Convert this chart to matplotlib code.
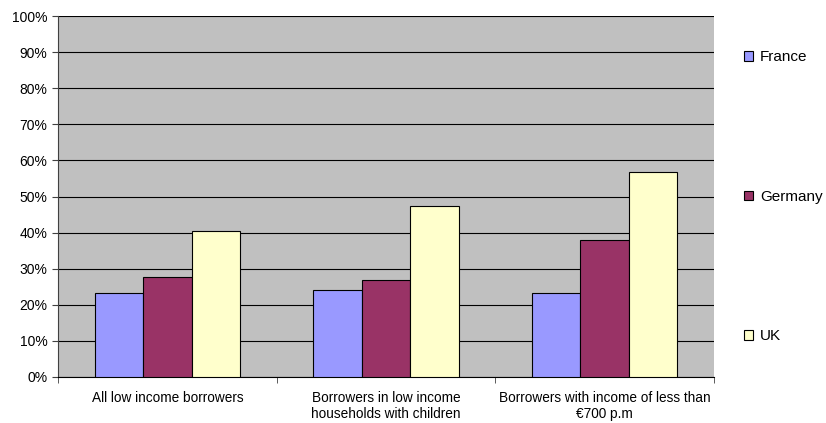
import numpy as np
import matplotlib.pyplot as plt
from matplotlib.ticker import PercentFormatter

# Data
categories = ['All low income borrowers',
              'Borrowers in low income\nhouseholds with children',
              'Borrowers with income of less than\n€700 p.m']
countries = ['France', 'Germany', 'UK']
france = [23.4, 24.1, 23.4]
germany = [27.8, 27.0, 37.9]
uk = [40.4, 47.5, 56.8]
colors = ['#9999FF', '#993366', '#FFFFCC']

plt.rcParams['font.family'] = ['Liberation Sans', 'DejaVu Sans']

fig = plt.figure(figsize=(8.26, 4.23), dpi=100)
ax = fig.add_axes([58 / 826, 1 - 377 / 423, (714 - 58) / 826, (377 - 16) / 423])
ax.set_facecolor('#C0C0C0')

x = np.arange(len(categories))
w = 0.222
for i, (vals, name) in enumerate(zip([france, germany, uk], countries)):
    ax.bar(x + (i - 1) * w, vals, w, color=colors[i], edgecolor='black',
           linewidth=0.8, label=name, zorder=3)

ax.set_ylim(0, 100)
ax.set_xlim(-0.5, len(categories) - 0.5)
ax.set_yticks(np.arange(0, 101, 10))
ax.yaxis.set_major_formatter(PercentFormatter(decimals=0))
ax.yaxis.grid(True, color='black', linewidth=0.8, zorder=0)

# category labels centered, tick marks at boundaries
ax.set_xticks(x)
ax.set_xticklabels(categories, fontsize=9.8)
ax.tick_params(axis='x', which='major', length=0, pad=10)
ax.set_xticks(np.arange(-0.5, len(categories)), minor=True)
ax.tick_params(axis='x', which='minor', length=4, color='#404040')
ax.tick_params(axis='y', labelsize=10, length=4, color='#404040')

for s in ['top', 'right']:
    ax.spines[s].set_visible(False)
ax.spines['left'].set_color('#404040')
ax.spines['bottom'].set_color('black')

leg = ax.legend(loc='upper left', bbox_to_anchor=(1.036, 0.922), frameon=False,
                fontsize=11, labelspacing=8.22, handlelength=0.6, handleheight=0.6,
                handletextpad=0.45, borderaxespad=0)

fig.savefig('out.png', dpi=100)
